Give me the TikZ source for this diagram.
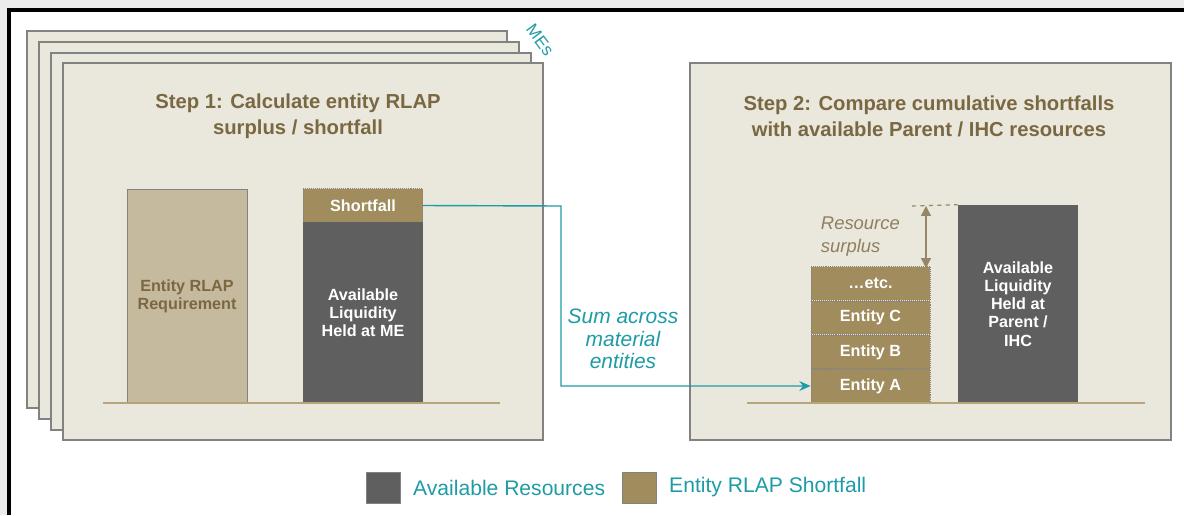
\documentclass[tikz,border=0pt]{standalone}
\usepackage{fontspec}
\setmainfont{Liberation Sans}
\usepackage{tikz}
\usetikzlibrary{arrows.meta, positioning}
\definecolor{pagegray}{RGB}{236, 236, 236}
\definecolor{cardfill}{RGB}{234, 231, 220}
\definecolor{cardgray}{RGB}{130, 130, 130}
\definecolor{titlebrown}{RGB}{122, 104, 66}
\definecolor{reqtan}{RGB}{197, 186, 158}
\definecolor{gapbrown}{RGB}{160, 140, 92}
\definecolor{liqgray}{RGB}{95, 95, 95}
\definecolor{flowteal}{RGB}{30, 156, 166}
\definecolor{groundtan}{RGB}{183, 164, 122}

\begin{document}
\begin{tikzpicture}[
    x=0.025cm, y=-0.025cm,
    card/.style={draw=cardgray, line width=1.1pt, fill=cardfill},
    title/.style={text=titlebrown, align=center, font=\fontsize{14.4}{18.4}\selectfont\bfseries},
    bartext/.style={inner sep=0pt, align=center, font=\fontsize{11.5}{12.9}\selectfont\bfseries},
    reqbar/.style={rectangle, draw=cardgray, fill=reqtan, text=titlebrown, minimum width=3cm, minimum height=5.35cm, bartext},
    liqbar/.style={rectangle, fill=liqgray, text=white, minimum width=3cm, bartext},
    gapbox/.style={rectangle, draw=cardgray, densely dotted, fill=gapbrown, text=white, minimum width=2.98cm, minimum height=0.84cm, bartext},
    ground/.style={groundtan, line width=1.1pt},
    flow/.style={-{Stealth[length=8pt, width=7pt]}, flowteal, line width=1pt},
    note/.style={align=center, font=\fontsize{14.9}{16}\selectfont\itshape},
    legbox/.style={rectangle, draw=cardgray, minimum width=0.85cm, minimum height=0.78cm, inner sep=0pt},
    legtext/.style={text=flowteal, inner sep=0pt, font=\fontsize{15}{17}\selectfont}
]
    \useasboundingbox (0,0) rectangle (1184,515);
    \fill[pagegray] (0,0) rectangle (1184,515);
    \fill[white] (9,10) rectangle (1184,515);
    \draw[black, line width=2.2pt] (9,515) -- (9,10) -- (1184,10);

    % stacked material entity cards
    \foreach \dx/\dy in {0/0, 12/11, 24/22, 36/32}
        \draw[card] (27+\dx,31+\dy) rectangle (507+\dx,408+\dy);
    \node[rotate=-53, text=flowteal, inner sep=0pt, font=\fontsize{12}{14}\selectfont] (mes) at (540,40) {MEs};

    \node[title] (step1) at (298,116) {Step 1: Calculate entity RLAP\\surplus / shortfall};
    \node[reqbar] (req) at (187,296) {Entity RLAP\\Requirement};
    \node[gapbox] (short) at (363,205.5) {Shortfall};
    \node[liqbar, minimum height=4.525cm] (liqme) at (363,312.5) {Available\\Liquidity\\Held at ME};
    \coordinate (ground1a) at (103,403);
    \coordinate (ground1b) at (500,403);
    \draw[ground] (ground1a) -- (ground1b);

    % parent / IHC panel
    \draw[card] (690,63) rectangle (1171,440);
    \node[title] (step2) at (929,116) {Step 2: Compare cumulative shortfalls\\with available Parent / IHC resources};
    \node[gapbox] (enta) at (870.5,386) {Entity A};
    \node[gapbox, above=0pt of enta] (entb) {Entity B};
    \node[gapbox, above=0pt of entb] (entc) {Entity C};
    \node[gapbox, above=0pt of entc] (etc) {\ldots etc.};
    \node[liqbar, minimum height=4.95cm] (parent) at (1018,304) {Available\\Liquidity\\Held at\\Parent /\\IHC};
    \coordinate (ground2a) at (747,403);
    \coordinate (ground2b) at (1145,403);
    \draw[ground] (ground2a) -- (ground2b);

    \coordinate (surtop) at (926,206);
    \coordinate (surbot) at (926,268);
    \coordinate (dashl) at (912,206);
    \draw[titlebrown!80, dashed, line width=0.8pt] (dashl) -- (parent.north west);
    \draw[{Triangle[length=7pt, width=7pt]}-{Triangle[length=7pt, width=7pt]}, titlebrown!80, line width=0.9pt] (surtop) -- (surbot);
    \node[note, text=titlebrown!85, anchor=west, align=left, font=\fontsize{13.1}{16.3}\selectfont\itshape] (surplus) at (816,236.5) {Resource\\surplus};

    % summing connector
    \coordinate (bend) at (561,206);
    \draw[flow] (short.east) -- (bend) |- (enta.west);
    \node[note, text=flowteal] (sum) at (623,339) {Sum across\\material\\entities};

    % legend
    \node[legbox, fill=liqgray] (leg1) at (383,487.5) {};
    \node[legtext, right=9pt of leg1] (leg1t) {Available Resources};
    \node[legbox, fill=gapbrown] (leg2) at (639,487.5) {};
    \node[legtext, right=9pt of leg2] (leg2t) {Entity RLAP Shortfall};
\end{tikzpicture}
\end{document}
